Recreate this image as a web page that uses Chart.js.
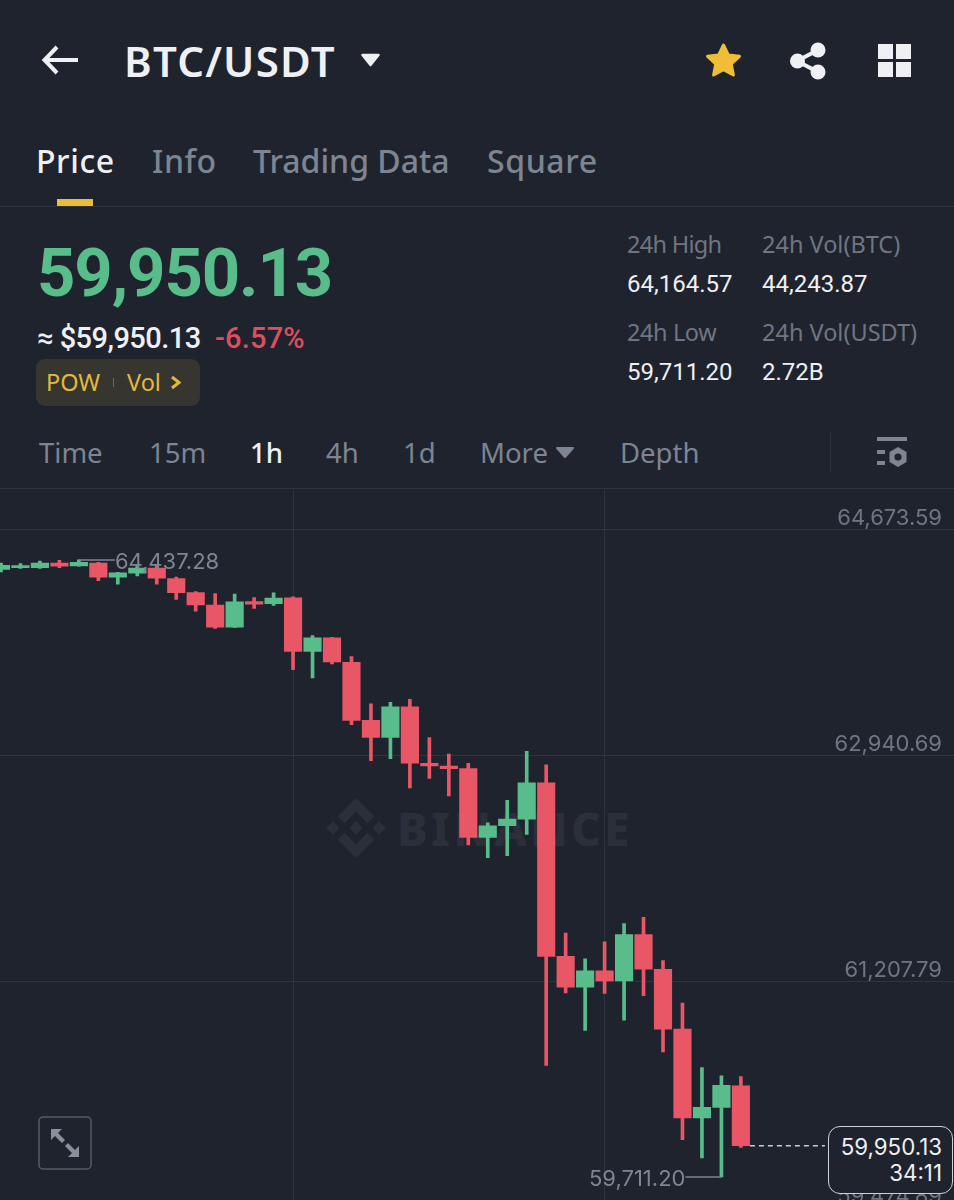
<!DOCTYPE html>
<html>
<head>
<meta charset="utf-8">
<title>BTC/USDT</title>
<script src="https://cdn.jsdelivr.net/npm/chart.js@4"></script>
<style>
html, body { margin: 0; padding: 0; width: 954px; height: 1200px; overflow: hidden; background: #1f232e; }
body { position: relative; font-family: "Noto Sans", sans-serif; color: #7d8592; }
.t { position: absolute; white-space: nowrap; line-height: 1; transform: translateY(-50%); }
.w { color: #eef0f3; }
.y { color: #e2b93b; }
.tab { font-size: 32px; font-weight: 500; top: 161px; letter-spacing: .6px; }
.nav { font-size: 27.5px; top: 453px; }
.lbl { font-size: 23.5px; color: #6f7682; }
.val { font-family: Roboto, sans-serif; font-size: 24px; color: #eef0f3; }
.hr { position: absolute; left: 0; width: 954px; height: 1px; background: #2e333e; }
svg { position: absolute; overflow: visible; }
#wrap { position: absolute; left: 0; top: 489px; width: 954px; height: 720px; }
#wm { position: absolute; left: 397px; top: 828px; transform: translateY(-50%); font: 800 46px "Noto Sans", sans-serif; letter-spacing: 3.2px; color: #2b2f3a; line-height: 1; }
#box { position: absolute; left: 828px; top: 1126px; width: 123px; height: 66px; border: 1.5px solid #cfd2d6; border-radius: 12px; background: #1f232e; color: #eef0f3; font: 22.3px/26px Inter, sans-serif; text-align: right; }
#box div { padding-right: 10px; }
</style>
</head>
<body>

<!-- top bar -->
<svg style="left:42px;top:44px" width="36" height="32" viewBox="0 0 36 32"><path d="M36 16H3M15 3L2.5 16L15 29" fill="none" stroke="#eef0f3" stroke-width="4"/></svg>
<div class="t w" style="left:124px;top:61px;font-size:42px;font-weight:600;letter-spacing:1.2px">BTC/USDT</div>
<svg style="left:361px;top:53px" width="19" height="14" viewBox="0 0 19 14"><path d="M1.5 2H17.5L9.5 12Z" fill="#eef0f3" stroke="#eef0f3" stroke-width="2.5" stroke-linejoin="round"/></svg>
<svg style="left:705px;top:42px" width="37" height="37" viewBox="0 0 37 37"><path d="M18.5 3L23.3 13L34.5 14.3L26.3 22L28.4 33L18.5 27.6L8.6 33L10.7 22L2.5 14.3L13.7 13Z" fill="#efbd37" stroke="#efbd37" stroke-width="3" stroke-linejoin="round"/></svg>
<svg style="left:790px;top:42px" width="36" height="38" viewBox="0 0 36 38"><path d="M28 8L7 19L28 30" fill="none" stroke="#eef0f3" stroke-width="4"/><circle cx="28" cy="8" r="7.5" fill="#eef0f3"/><circle cx="7.5" cy="19" r="7.5" fill="#eef0f3"/><circle cx="28" cy="30" r="7.5" fill="#eef0f3"/></svg>
<svg style="left:878px;top:44px" width="34" height="34" viewBox="0 0 34 34" fill="#eef0f3"><rect width="15" height="15"/><rect x="18" width="15" height="15"/><rect y="18" width="15" height="15"/><rect x="18" y="18" width="15" height="15"/></svg>

<!-- tabs -->
<div class="t tab w" style="left:36px">Price</div>
<div class="t tab" style="left:152px">Info</div>
<div class="t tab" style="left:253px;letter-spacing:0">Trading Data</div>
<div class="t tab" style="left:487px">Square</div>
<div style="position:absolute;left:57px;top:199px;width:36px;height:7px;background:#e8bd3c"></div>
<div class="hr" style="top:206px"></div>

<!-- price block -->
<div class="t" style="left:37px;top:273px;font:700 67px Roboto,sans-serif;letter-spacing:-1.1px;color:#58bd8a">59,950.13</div>
<div class="t w" style="left:37px;top:338px;font:500 29px Roboto,sans-serif;letter-spacing:-.55px">≈ $59,950.13</div>
<div class="t" style="left:215px;top:338px;font:500 29px Roboto,sans-serif;letter-spacing:.2px;color:#dc4f5f">-6.57%</div>
<div style="position:absolute;left:36px;top:359px;width:164px;height:47px;border-radius:9px;background:#37352f"></div>
<div class="t y" style="left:46px;top:383px;font-size:23.5px">POW</div>
<div style="position:absolute;left:113px;top:378px;width:1px;height:9px;background:#77683a"></div>
<div class="t y" style="left:127px;top:383px;font-size:23.5px">Vol</div>
<svg style="left:170px;top:375px" width="12" height="15" viewBox="0 0 12 15"><path d="M2 2L9 7.5L2 13" fill="none" stroke="#e2b93b" stroke-width="3"/></svg>

<!-- 24h stats -->
<div class="t lbl" style="left:627px;top:245px;letter-spacing:-.7px">24h High</div>
<div class="t lbl" style="left:762px;top:245px">24h Vol(BTC)</div>
<div class="t val" style="left:627px;top:284px">64,164.57</div>
<div class="t val" style="left:762px;top:284px">44,243.87</div>
<div class="t lbl" style="left:627px;top:333px;letter-spacing:-.4px">24h Low</div>
<div class="t lbl" style="left:762px;top:333px">24h Vol(USDT)</div>
<div class="t val" style="left:627px;top:372px">59,711.20</div>
<div class="t val" style="left:762px;top:372px">2.72B</div>

<!-- interval bar -->
<div class="t nav" style="left:39px">Time</div>
<div class="t nav" style="left:149px">15m</div>
<div class="t nav w" style="left:250px;font-weight:500">1h</div>
<div class="t nav" style="left:326px">4h</div>
<div class="t nav" style="left:403px">1d</div>
<div class="t nav" style="left:480px">More</div>
<svg style="left:555px;top:446px" width="20" height="13" viewBox="0 0 20 13"><path d="M2 2H18L10 11Z" fill="#7d8592" stroke="#7d8592" stroke-width="2" stroke-linejoin="round"/></svg>
<div class="t nav" style="left:620px">Depth</div>
<div style="position:absolute;left:830px;top:432px;width:1px;height:40px;background:#2e333e"></div>
<svg style="left:877px;top:437px" width="30" height="31" viewBox="0 0 30 31" fill="#7d8592"><rect width="30" height="4"/><rect y="13" width="8" height="4"/><rect y="24" width="8" height="4"/><path d="M21 10L29.5 15V25L21 30L12.500 25V15Z"/><circle cx="21" cy="20" r="3.6" fill="#1f232e"/></svg>
<div class="hr" style="top:488px"></div>

<!-- watermark under the chart -->
<svg style="left:326px;top:798px" width="60" height="60" viewBox="0 0 126.61 126.61" fill="#2b2f3a"><path d="M38.73 53.2l24.59-24.58 24.6 24.6 14.3-14.31L63.32 0 24.43 38.9z"/><path d="M0 63.31l14.3-14.31 14.31 14.31-14.31 14.3z"/><path d="M38.73 73.41l24.59 24.59 24.6-24.6 14.31 14.29-38.9 38.91-38.91-38.88-.02-.02z"/><path d="M98 63.31l14.3-14.31 14.31 14.3-14.31 14.32z"/><path d="M77.83 63.3L63.32 48.78 52.59 59.51l-1.24 1.23-2.54 2.54 14.51 14.5 14.51-14.47z"/></svg>
<div id="wm">BINANCE</div>

<div id="wrap"><canvas id="kline" width="954" height="720"></canvas></div>

<!-- fullscreen button and last price box -->
<svg style="left:38px;top:1116px" width="54" height="54" viewBox="0 0 54 54"><rect x="1" y="1" width="52" height="52" rx="4" fill="#1f232e" stroke="#565c67" stroke-width="1.5"/><path d="M13 13H24L20 17L27 24L24 27L17 20L13 24ZM41 41H30L34 37L27 30L30 27L37 34L41 30Z" fill="#8a909b"/></svg>
<div id="box"><div style="margin-top:7px">59,950.13</div><div>34:11</div></div>

<script>
// 1h candles, oldest first
var candles = [];
for (var c = 0; c < 39; c++) candles.push(c);
var opens = [64364, 64378, 64378, 64414, 64391, 64414, 64305, 64335, 64374, 64294, 64187, 64091, 63923, 64119, 64103, 64147, 63737, 63841, 63653, 63208, 63078, 63312, 62880, 62859, 62839, 62312, 62401, 62452, 62729, 61401, 61164, 61289, 61213, 61567, 61302, 60844, 60164, 60244, 60409];
var closes = [64395, 64393, 64414, 64389, 64419, 64305, 64338, 64374, 64297, 64187, 64093, 63923, 64116, 64099, 64145, 63737, 63841, 63656, 63208, 63078, 63312, 62880, 62859, 62839, 62312, 62401, 62452, 62729, 61401, 61164, 61289, 61213, 61567, 61302, 60844, 60164, 60244, 60412, 59950.13];
var highs = [64414, 64409, 64429, 64435, 64437.28, 64419, 64343, 64393, 64404, 64305, 64195, 64180, 64175, 64149, 64185, 64155, 63857, 63845, 63696, 63335, 63347, 63370, 63076, 62951, 62880, 62424, 62595, 62971, 62867, 61579, 61381, 61513, 61651, 61699, 61368, 61042, 60549, 60485, 60480];
var lows = [64345, 64373, 64372, 64378, 64389, 64279, 64251, 64315, 64251, 64134, 64045, 63913, 63920, 64065, 64088, 63597, 63534, 63641, 63175, 62900, 62915, 62691, 62763, 62630, 62254, 62157, 62172, 62335, 60566, 61121, 60834, 61116, 60912, 61099, 60668, 59996, 59857, 59711.20, 59938];

var priceTicks = [64673.59, 62940.69, 61207.79, 59474.89];
var timeTicks = [15, 31];
var topPrice = 64971.3;
var xFirst = -0.0514, xLast = 48.945;
var highIndex = 4, lowIndex = 37, lastIndex = 38;

var UP = '#58bd8a', DOWN = '#e95666', GRID = '#2e333e', AXIS = '#6f7682';

function fmt(v) {
    return v.toLocaleString('en-US', { minimumFractionDigits: 2, maximumFractionDigits: 2 });
}

function candleColor(ctx) {
    return closes[ctx.dataIndex] >= opens[ctx.dataIndex] ? UP : DOWN;
}

// high / low callouts and the dashed last price line
var callouts = {
    id: 'callouts',
    afterDatasetsDraw: function (chart) {
        var g = chart.ctx, x = chart.scales.x, y = chart.scales.y;
        g.save();
        g.font = '22px Inter, sans-serif';
        g.fillStyle = '#7f8591';
        g.strokeStyle = '#7f8591';
        g.lineWidth = 1.5;
        g.textBaseline = 'middle';

        var hx = x.getPixelForValue(highIndex), hy = y.getPixelForValue(highs[highIndex]);
        g.beginPath(); g.moveTo(hx, hy); g.lineTo(hx + 36, hy); g.stroke();
        g.textAlign = 'left';
        g.fillText(fmt(highs[highIndex]), hx + 36, hy + 2);

        var lx = x.getPixelForValue(lowIndex), ly = y.getPixelForValue(lows[lowIndex]);
        g.beginPath(); g.moveTo(lx, ly); g.lineTo(lx - 36, ly); g.stroke();
        g.textAlign = 'right';
        g.fillText(fmt(lows[lowIndex]), lx - 36, ly + 2);

        var cx = x.getPixelForValue(lastIndex), cy = y.getPixelForValue(closes[lastIndex]);
        g.strokeStyle = '#c9ccd1';
        g.setLineDash([5, 4]);
        g.beginPath(); g.moveTo(cx + 9, cy); g.lineTo(cx + 84, cy); g.stroke();
        g.restore();
    }
};

var chart = new Chart(document.getElementById('kline').getContext('2d'), {
    type: 'bar',
    data: {
        labels: candles,
        datasets: [{
            label: 'Wick',
            data: candles.map(function (i) { return [lows[i], highs[i]]; }),
            backgroundColor: candleColor,
            barThickness: 3,
            grouped: false,
            order: 2
        }, {
            label: 'Body',
            data: candles.map(function (i) { return [opens[i], closes[i]]; }),
            backgroundColor: candleColor,
            barThickness: 17.5,
            grouped: false,
            order: 1
        }]
    },
    options: {
        responsive: false,
        animation: false,
        events: [],
        layout: { padding: 0 },
        plugins: { legend: { display: false }, tooltip: { enabled: false } },
        scales: {
            x: {
                type: 'linear',
                min: xFirst,
                max: xLast,
                offset: false,
                afterBuildTicks: function (s) { s.ticks = timeTicks.map(function (v) { return { value: v }; }); },
                grid: { color: GRID, drawTicks: false, offset: false },
                border: { display: false },
                ticks: { display: false }
            },
            y: {
                position: 'right',
                min: priceTicks[priceTicks.length - 1],
                max: topPrice,
                afterBuildTicks: function (s) { s.ticks = priceTicks.map(function (v) { return { value: v }; }); },
                grid: { color: GRID, drawTicks: false },
                border: { display: false },
                ticks: {
                    mirror: true,
                    padding: -12,
                    labelOffset: -11,
                    color: AXIS,
                    font: { family: 'Inter, sans-serif', size: 22 },
                    callback: function (v) { return fmt(v); }
                }
            }
        }
    },
    plugins: [callouts]
});
</script>
</body>
</html>
